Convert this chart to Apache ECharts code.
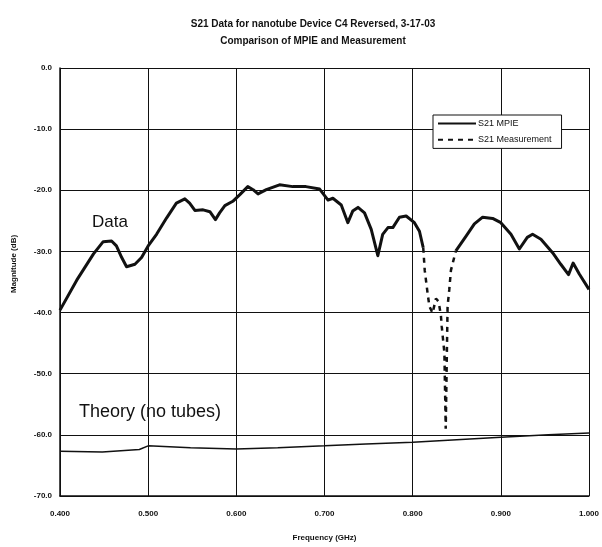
<!DOCTYPE html>
<html>
<head>
<meta charset="utf-8">
<script src="https://cdn.jsdelivr.net/npm/echarts@6/dist/echarts.min.js"></script>
<style>
html,body{margin:0;padding:0;background:#fff;}
#chart{width:602px;height:547px;}
</style>
</head>
<body>
<div id="chart"></div>
<script>
// ---- data ----
const titleLines = ['S21 Data for nanotube Device C4 Reversed, 3-17-03', 'Comparison of MPIE and Measurement'];
const xTicks = [0.4, 0.5, 0.6, 0.7, 0.8, 0.9, 1.0];
const yTicks = [0, -10, -20, -30, -40, -50, -60, -70];

// S21 Measurement (the "Data" curve)
const measFreq = [0.400,0.419,0.438,0.449,0.4585,0.464,0.470,0.4755,0.485,0.4925,0.500,0.5095,0.521,0.532,0.5416,0.547,0.553,0.5623,0.570,0.5763,0.581,0.587,0.596,0.604,0.613,0.619,0.6246,0.634,0.649,0.664,0.679,0.6945,0.704,0.7095,0.719,0.7265,0.732,0.738,0.7454,0.753,0.7605,0.766,0.772,0.7775,0.785,0.7926,0.802,0.8077,0.812,0.8137,0.817,0.819,0.8226,0.8264,0.8294,0.832,0.833,0.836,0.8365,0.837,0.8375,0.8396,0.8415,0.8434,0.849,0.8606,0.870,0.8794,0.8907,0.900,0.9115,0.921,0.930,0.936,0.9455,0.9587,0.968,0.9768,0.982,0.989,1.000];
const measDb = [-39.6,-34.7,-30.4,-28.4,-28.3,-29.1,-31.0,-32.5,-32.1,-31.0,-29.1,-27.2,-24.5,-22.1,-21.4,-22.1,-23.3,-23.2,-23.5,-24.8,-23.7,-22.5,-21.8,-20.7,-19.4,-19.9,-20.6,-19.9,-19.1,-19.4,-19.4,-19.8,-21.6,-21.3,-22.4,-25.3,-23.4,-22.8,-23.7,-26.4,-30.7,-27.2,-26.1,-26.1,-24.4,-24.2,-25.3,-26.7,-29.4,-33.1,-36.9,-39.0,-40.1,-37.7,-38.2,-40.4,-42.3,-46.6,-50.9,-54.7,-59.0,-39.0,-36.3,-33.1,-29.9,-27.5,-25.5,-24.4,-24.6,-25.3,-27.2,-29.6,-27.7,-27.2,-28.0,-30.2,-32.1,-33.8,-31.9,-33.7,-36.2];

// S21 MPIE (the "Theory (no tubes)" curve)
const mpieFreq = [0.400,0.448,0.490,0.500,0.548,0.600,0.647,0.700,0.747,0.800,0.850,0.900,0.954,1.000];
const mpieDb = [-62.7,-62.8,-62.4,-61.8,-62.1,-62.3,-62.1,-61.8,-61.5,-61.2,-60.8,-60.4,-60.0,-59.7];

// frequency range where the measurement is drawn with visible dashes
const notchStart = 0.812, notchEnd = 0.849;

// ---- build series data ----
const mpieData = mpieFreq.map((f, i) => [f, mpieDb[i]]);
const measSolid = measFreq.map((f, i) => (f <= notchStart || f >= notchEnd) ? [f, measDb[i]] : [f, null]);
const measDash = measFreq.map((f, i) => (f >= notchStart && f <= notchEnd) ? [f, measDb[i]] : [f, null]);

const FONT = 'Liberation Sans';
const chart = echarts.init(document.getElementById('chart'), null, {renderer: 'canvas'});
chart.setOption({
  animation: false,
  backgroundColor: '#ffffff',
  title: {
    text: titleLines.join('\n'),
    left: 308, top: 11, textAlign: 'center',
    textStyle: {fontFamily: FONT, fontSize: 10, fontWeight: 'bold', color: '#111', lineHeight: 17}
  },
  grid: {left: 60, top: 68, right: 12, bottom: 45, containLabel: false},
  legend: {
    data: ['S21 MPIE', 'S21 Measurement'],
    orient: 'vertical',
    left: 433, top: 115,
    padding: [3, 10, 3, 4],
    itemGap: 5,
    itemWidth: 38, itemHeight: 14,
    backgroundColor: '#fff',
    borderColor: '#111', borderWidth: 1,
    itemStyle: {opacity: 0},
    textStyle: {fontFamily: FONT, fontSize: 9, color: '#111', padding: [0, 0, 0, -3]}
  },
  xAxis: {
    type: 'value', min: 0.4, max: 1.0, interval: 0.1,
    name: 'Frequency (GHz)', nameLocation: 'middle', nameGap: 38,
    nameTextStyle: {fontFamily: FONT, fontSize: 8, fontWeight: 'bold', color: '#111'},
    axisLine: {show: true, onZero: false, lineStyle: {color: '#111', width: 1.5}},
    axisTick: {show: false},
    axisLabel: {margin: 14, fontFamily: FONT, fontSize: 8, fontWeight: 'bold', color: '#111',
      formatter: v => v.toFixed(3)},
    splitLine: {show: true, lineStyle: {color: '#111', width: 1}}
  },
  yAxis: {
    type: 'value', min: -70, max: 0, interval: 10,
    name: 'Magnitude (dB)', nameLocation: 'middle', nameGap: 42, nameRotate: 90,
    nameTextStyle: {fontFamily: FONT, fontSize: 8, fontWeight: 'bold', color: '#111', padding: [0, 0, 0, 36]},
    axisLine: {show: true, onZero: false, lineStyle: {color: '#111', width: 1.5}},
    axisTick: {show: false},
    axisLabel: {margin: 8, fontFamily: FONT, fontSize: 8, fontWeight: 'bold', color: '#111',
      formatter: v => v.toFixed(1)},
    splitLine: {show: true, lineStyle: {color: '#111', width: 1}}
  },
  series: [
    {
      name: 'S21 MPIE', type: 'line', data: mpieData,
      showSymbol: false, symbol: 'none',
      lineStyle: {color: '#111', width: 1.5},
      itemStyle: {color: '#111'}
    },
    {
      name: 'S21 Measurement', type: 'line', data: measDash,
      showSymbol: false, symbol: 'none', connectNulls: false,
      lineStyle: {color: '#111', width: 2.5, type: [5, 5]},
      itemStyle: {color: '#111'}
    },
    {
      name: 'measurement-solid', type: 'line', data: measSolid,
      showSymbol: false, symbol: 'none', connectNulls: false,
      lineStyle: {color: '#111', width: 3, join: 'round'},
      itemStyle: {color: '#111'}
    }
  ],
  graphic: [
    {type: 'text', left: 92, top: 214, style: {text: 'Data', fontFamily: FONT, fontSize: 17, fill: '#111'}},
    {type: 'text', left: 79, top: 403, style: {text: 'Theory (no tubes)', fontFamily: FONT, fontSize: 18, fill: '#111'}}
  ]
});
</script>
</body>
</html>
